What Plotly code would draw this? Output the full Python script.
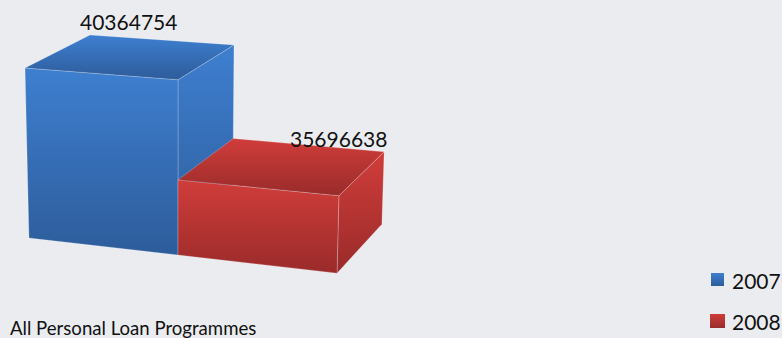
import plotly.graph_objects as go

# Chart content
years = ["2007", "2008"]
loan_totals = [40364754, 35696638]
category_label = "All Personal Loan Programmes"

# Value axis of the 3D column chart is truncated
axis_floor = 32100000
axis_span = 40364754 - 32100000

BG = "#ebecf0"
BLUE_HI, BLUE_LO = "#3e7fd0", "#2d5c9a"
RED_HI, RED_LO = "#d03d3a", "#992b2a"
EDGE = "rgba(255,255,255,0.28)"


def project(u, d, value):
    """Perspective camera: column position u, depth d, value -> page position."""
    h = (value - axis_floor) / axis_span
    w = 1 - 0.03145 * u + 0.0729 * d - 0.026 * h
    x = (29 + 143.4 * u + 69.87 * d - 4.65 * h) / w
    y = (238 + 8.98 * u - 29.56 * d - 171.8 * h) / w
    return x, y


def face(corners, hi, lo):
    pts = [project(*c) for c in corners]
    xs = [p[0] for p in pts] + [pts[0][0]]
    ys = [p[1] for p in pts] + [pts[0][1]]
    return go.Scatter(
        x=xs, y=ys, mode="lines", fill="toself",
        fillgradient=dict(type="vertical", colorscale=[[0, lo], [1, hi]]),
        line=dict(color=EDGE, width=0.8),
        hoverinfo="skip", showlegend=False,
    )


fig = go.Figure()
colors = [(BLUE_HI, BLUE_LO), (RED_HI, RED_LO)]
for i, value in enumerate(loan_totals):
    hi, lo = colors[i]
    u0, u1 = i, i + 1
    floor = axis_floor
    fig.add_trace(face([(u1, 0, value), (u1, 1, value), (u1, 1, floor), (u1, 0, floor)], hi, lo))
    fig.add_trace(face([(u0, 0, value), (u1, 0, value), (u1, 0, floor), (u0, 0, floor)], hi, lo))
    fig.add_trace(face([(u0, 0, value), (u0, 1, value), (u1, 1, value), (u1, 0, value)], hi, lo))

# Legend keys
key_boxes = [(711, 724, 273, 286), (710, 725, 314, 328)]
for (x0, x1, y0, y1), (hi, lo) in zip(key_boxes, colors):
    fig.add_trace(go.Scatter(
        x=[x0, x1, x1, x0, x0], y=[y0, y0, y1, y1, y0], mode="lines", fill="toself",
        fillgradient=dict(type="vertical", colorscale=[[0, lo], [1, hi]]),
        line=dict(width=0), hoverinfo="skip", showlegend=False,
    ))

FONT = "Lato"
texts = [
    (128.5, 21, str(loan_totals[0]), 21, "center"),
    (338.5, 138, str(loan_totals[1]), 21, "center"),
    (8, 327.5, category_label, 18.6, "left"),
    (730, 280, years[0], 21, "left"),
    (730, 321, years[1], 21, "left"),
]
annotations = [
    dict(x=x, y=y, text=t, xref="x", yref="y", showarrow=False, xanchor=a, yanchor="middle",
         font=dict(family=FONT, size=s, color="#111111"))
    for x, y, t, s, a in texts
]

fig.update_layout(
    width=782, height=338,
    margin=dict(l=0, r=0, t=0, b=0),
    paper_bgcolor=BG, plot_bgcolor=BG,
    xaxis=dict(range=[0, 782], visible=False),
    yaxis=dict(range=[338, 0], visible=False),
    annotations=annotations,
    showlegend=False,
)
fig.write_html("out.html", config={"displayModeBar": False})
